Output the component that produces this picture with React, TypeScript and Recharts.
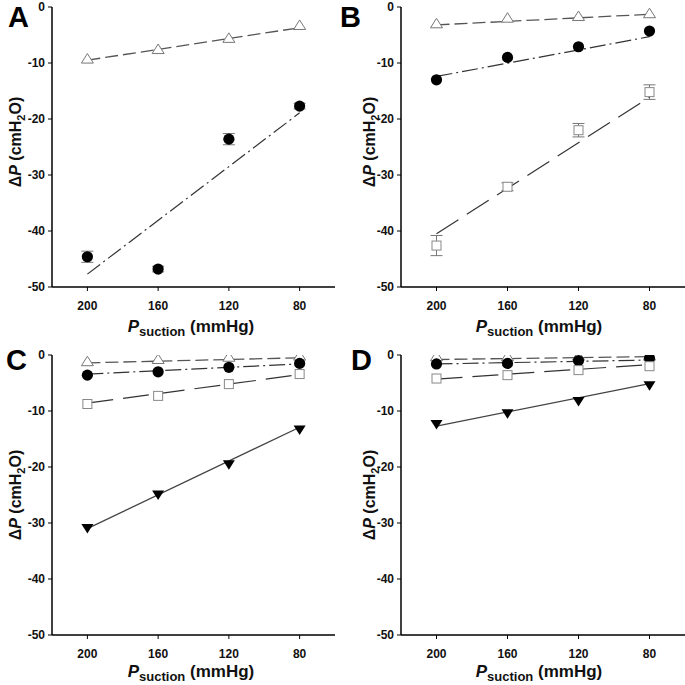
import { ScatterChart, Scatter, XAxis, YAxis, ErrorBar } from "recharts";

// suction pressure levels (mmHg) and the two ends of each regression line
const psuction = [200, 160, 120, 80];
const fitEnds = [200, 80];
const xTicks = [200, 160, 120, 80];
const yTicks = [0, -10, -20, -30, -40, -50];

// panel A
const aTri = [-9.3, -7.6, -5.6, -3.3];
const aCirc = [-44.6, -46.8, -23.6, -17.7];
const aCircErr = [1.0, 0.5, 1.0, 0.5];
const aTriFit = [-9.5, -3.7];
const aCircFit = [-47.7, -18.9];

// panel B
const bTri = [-3.0, -2.0, -1.7, -1.2];
const bCirc = [-13.0, -9.0, -7.1, -4.3];
const bSq = [-42.6, -32.1, -22.0, -15.2];
const bSqErr = [1.8, 0.7, 1.2, 1.3];
const bTriFit = [-3.2, -1.3];
const bCircFit = [-12.4, -5.3];
const bSqFit = [-40.5, -16.1];

// panel C
const cTri = [-1.2, -0.8, -0.4, -0.2];
const cCirc = [-3.6, -3.0, -2.2, -1.5];
const cSq = [-8.75, -7.3, -5.2, -3.4];
const cInv = [-30.9, -24.9, -19.5, -13.3];
const cTriFit = [-1.4, -0.5];
const cCircFit = [-3.4, -1.6];
const cSqFit = [-8.6, -3.5];
const cInvFit = [-31.0, -12.9];

// panel D
const dTri = [-0.3, -0.3, -0.2, -0.2];
const dCirc = [-1.6, -1.5, -1.0, -0.6];
const dSq = [-4.2, -3.6, -2.7, -2.0];
const dInv = [-12.3, -10.4, -8.2, -5.4];
const dTriFit = [-0.8, -0.3];
const dCircFit = [-1.6, -0.9];
const dSqFit = [-4.3, -1.7];
const dInvFit = [-12.7, -5.1];

const FONT = "'Liberation Sans', Arial, sans-serif";

const toPts = (vals: number[], errs?: number[]) =>
  psuction.map((x, i) => ({ x, y: vals[i], e: errs ? errs[i] : 0 }));
const toFit = (ends: number[]) => fitEnds.map((x, i) => ({ x, y: ends[i] }));

const Tri = (p: any) => (
  <polygon
    points={`${p.cx},${p.cy - 5.5} ${p.cx + 6},${p.cy + 4} ${p.cx - 6},${p.cy + 4}`}
    fill="#fff"
    stroke="#777"
    strokeWidth={1}
  />
);
const Circ = (p: any) => <circle cx={p.cx} cy={p.cy} r={5.6} fill="#000" />;
const Sq = (p: any) => (
  <rect x={p.cx - 4.5} y={p.cy - 4.5} width={9} height={9} fill="#fff" stroke="#888" strokeWidth={1} />
);
const Inv = (p: any) => (
  <polygon
    points={`${p.cx - 6},${p.cy - 4} ${p.cx + 6},${p.cy - 4} ${p.cx},${p.cy + 5.5}`}
    fill="#000"
  />
);
const Empty = () => <g />;

const lineStyles: Record<string, any> = {
  tri: { stroke: "#555", strokeWidth: 1.3, strokeDasharray: "13 5" },
  circ: { stroke: "#333", strokeWidth: 1.2, strokeDasharray: "16 4 2 4" },
  sq: { stroke: "#333", strokeWidth: 1.2, strokeDasharray: "26 10" },
  inv: { stroke: "#444", strokeWidth: 1.3 },
};
const shapes: Record<string, any> = { tri: Tri, circ: Circ, sq: Sq, inv: Inv };

type Series = { kind: string; vals: number[]; fit: number[]; err?: number[] };

const tickStyle = { fill: "#111", fontSize: 12, fontWeight: 700, fontFamily: FONT };

function Panel({ left, top, yw, mr, series }: { left: number; top: number; yw: number; mr: number; series: Series[] }) {
  return (
    <div style={{ position: "absolute", left, top }}>
      <ScatterChart width={345} height={345} margin={{ top: 7, right: mr, bottom: 0, left: 0 }}>
        <XAxis
          type="number"
          dataKey="x"
          domain={[60, 220]}
          reversed
          allowDataOverflow
          ticks={xTicks}
          interval={0}
          tickSize={4}
          tickMargin={10}
          height={58}
          axisLine={{ stroke: "#000", strokeWidth: 1.5 }}
          tickLine={{ stroke: "#000" }}
          tick={tickStyle}
        />
        <YAxis
          type="number"
          dataKey="y"
          domain={[-50, 0]}
          allowDataOverflow
          ticks={yTicks}
          interval={0}
          width={yw}
          tickSize={4}
          tickMargin={3}
          axisLine={{ stroke: "#000", strokeWidth: 1.5 }}
          tickLine={{ stroke: "#000" }}
          tick={tickStyle}
        />
        {series.map((s) => (
          <Scatter
            key={s.kind + "-fit"}
            data={toFit(s.fit)}
            line={lineStyles[s.kind]}
            shape={Empty}
            isAnimationActive={false}
          />
        ))}
        {series.map((s) => (
          <Scatter key={s.kind} data={toPts(s.vals, s.err)} shape={shapes[s.kind]} isAnimationActive={false}>
            {s.err && <ErrorBar dataKey="e" direction="y" width={6} stroke="#777" strokeWidth={1} />}
          </Scatter>
        ))}
      </ScatterChart>
    </div>
  );
}

function YLabel({ x, y }: { x: number; y: number }) {
  return (
    <text
      x={x}
      y={y}
      transform={`rotate(-90, ${x}, ${y})`}
      textAnchor="middle"
      fontFamily={FONT}
      fontWeight={700}
      fontSize={16}
      fill="#111"
    >
      <tspan>Δ</tspan>
      <tspan fontStyle="italic">P</tspan>
      <tspan> (cmH</tspan>
      <tspan fontSize={11} dy={4}>2</tspan>
      <tspan dy={-4}>O)</tspan>
    </text>
  );
}

function XLabel({ x, y }: { x: number; y: number }) {
  return (
    <text x={x} y={y} textAnchor="middle" fontFamily={FONT} fontWeight={700} fontSize={17} fill="#111">
      <tspan fontStyle="italic">P</tspan>
      <tspan fontSize={13} dy={4}>suction</tspan>
      <tspan dy={-4}> (mmHg)</tspan>
    </text>
  );
}

function Letter({ x, y, t }: { x: number; y: number; t: string }) {
  return (
    <text x={x} y={y} fontFamily={FONT} fontWeight={700} fontSize={29} fill="#000">
      {t}
    </text>
  );
}

export default function App() {
  return (
    <div style={{ position: "absolute", left: 0, top: 0, width: 685, height: 685, background: "#fff" }}>
      <Panel
        left={0}
        top={0}
        yw={52}
        mr={10}
        series={[
          { kind: "tri", vals: aTri, fit: aTriFit },
          { kind: "circ", vals: aCirc, fit: aCircFit, err: aCircErr },
        ]}
      />
      <Panel
        left={340}
        top={0}
        yw={61}
        mr={0}
        series={[
          { kind: "tri", vals: bTri, fit: bTriFit },
          { kind: "circ", vals: bCirc, fit: bCircFit },
          { kind: "sq", vals: bSq, fit: bSqFit, err: bSqErr },
        ]}
      />
      <Panel
        left={0}
        top={348}
        yw={52}
        mr={10}
        series={[
          { kind: "tri", vals: cTri, fit: cTriFit },
          { kind: "circ", vals: cCirc, fit: cCircFit },
          { kind: "sq", vals: cSq, fit: cSqFit },
          { kind: "inv", vals: cInv, fit: cInvFit },
        ]}
      />
      <Panel
        left={340}
        top={348}
        yw={61}
        mr={0}
        series={[
          { kind: "tri", vals: dTri, fit: dTriFit },
          { kind: "circ", vals: dCirc, fit: dCircFit },
          { kind: "sq", vals: dSq, fit: dSqFit },
          { kind: "inv", vals: dInv, fit: dInvFit },
        ]}
      />
      <svg width={685} height={685} style={{ position: "absolute", left: 0, top: 0, pointerEvents: "none" }}>
        <Letter x={8} y={27} t="A" />
        <Letter x={340} y={27} t="B" />
        <Letter x={6} y={370} t="C" />
        <Letter x={351} y={370} t="D" />
        <YLabel x={21} y={142} />
        <YLabel x={375} y={142} />
        <YLabel x={21} y={495} />
        <YLabel x={375} y={495} />
        <XLabel x={191} y={332} />
        <XLabel x={539} y={332} />
        <XLabel x={191} y={677} />
        <XLabel x={539} y={677} />
      </svg>
    </div>
  );
}
